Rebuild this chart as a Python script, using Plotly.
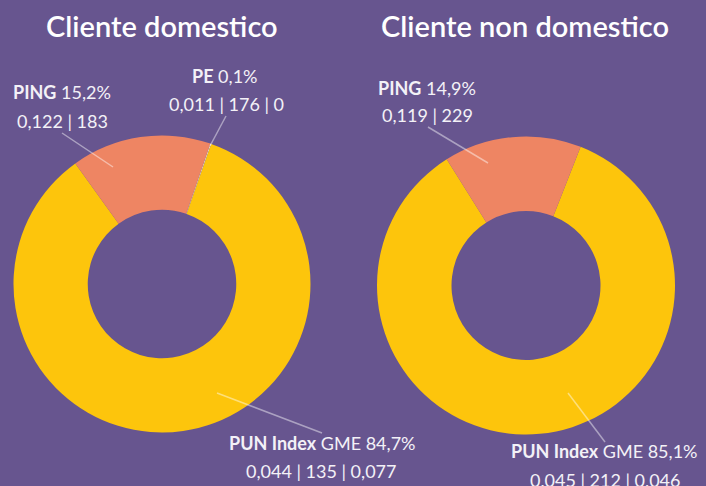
import plotly.graph_objects as go

# ---- data ----
titles = ["Cliente domestico", "Cliente non domestico"]
dom_labels = ["PE", "PUN Index GME", "PING"]
dom_values = [0.1, 84.7, 15.2]
dom_details = ["0,011 | 176 | 0", "0,044 | 135 | 0,077", "0,122 | 183"]
nondom_labels = ["PUN Index GME", "PING"]
nondom_values = [85.1, 14.9]
nondom_details = ["0,045 | 212 | 0,046", "0,119 | 229"]

W, H = 706, 486
BG = "#67558F"
COLORS = {"PE": "#EBDCC6", "PUN Index GME": "#FDC50C", "PING": "#EE8563"}
FONT = "Lato"
TXT = "#F3F1F7"

def px(x):
    return x / W

def py(y):
    return 1 - y / H

def dom_box(cx, cy, r):
    return dict(x=[px(cx - r), px(cx + r)], y=[py(cy + r), py(cy - r)])

fig = go.Figure()
fig.add_trace(go.Pie(
    labels=dom_labels, values=dom_values, hole=0.5, sort=False,
    direction="clockwise", rotation=19,
    marker=dict(colors=[COLORS[l] for l in dom_labels], line=dict(width=0)),
    textinfo="none", hoverinfo="label+percent",
    domain=dom_box(162, 284, 148.5), showlegend=False,
))
fig.add_trace(go.Pie(
    labels=nondom_labels, values=nondom_values, hole=0.5, sort=False,
    direction="clockwise", rotation=21.5,
    marker=dict(colors=[COLORS[l] for l in nondom_labels], line=dict(width=0)),
    textinfo="none", hoverinfo="label+percent",
    domain=dom_box(526, 285.5, 149), showlegend=False,
))

def pct(v):
    return f"{v:.1f}".replace(".", ",") + "%"

def name_html(label):
    if label == "PUN Index GME":
        return "<b>PUN Index</b> GME"
    return f"<b>{label}</b>"

annotations = []
shapes = []

# titles
for t, cx in zip(titles, [162, 525]):
    annotations.append(dict(text=t, x=px(cx), y=py(25), xref="paper", yref="paper",
                            showarrow=False, xanchor="center", yanchor="middle",
                            font=dict(family=FONT, size=29, color="#FFFFFF", weight=600)))

# label layout: (label, value, detail, (line1 center), (line2 center), line start, line end)
label_specs = [
    (dom_labels[2], dom_values[2], dom_details[2], (62, 92), (62, 121), (62, 133), (113, 167)),
    (dom_labels[0], dom_values[0], dom_details[0], (225, 76), (226, 104), (226, 116), (210, 146)),
    (dom_labels[1], dom_values[1], dom_details[1], (322, 443), (321, 471), (322, 433), (217, 393)),
    (nondom_labels[1], nondom_values[1], nondom_details[1], (427, 88), (427, 115), (428, 127), (488, 163)),
    (nondom_labels[0], nondom_values[0], nondom_details[0], (604, 451), (605, 480), (605, 442), (568, 393)),
]
for lab, val, det, c1, c2, l0, l1 in label_specs:
    annotations.append(dict(text=f"{name_html(lab)} {pct(val)}", x=px(c1[0]), y=py(c1[1]),
                            xref="paper", yref="paper", showarrow=False,
                            xanchor="center", yanchor="middle",
                            font=dict(family=FONT, size=18, color=TXT)))
    annotations.append(dict(text=det, x=px(c2[0]), y=py(c2[1]),
                            xref="paper", yref="paper", showarrow=False,
                            xanchor="center", yanchor="middle",
                            font=dict(family=FONT, size=18, color=TXT)))
    shapes.append(dict(type="line", xref="paper", yref="paper",
                       x0=px(l0[0]), y0=py(l0[1]), x1=px(l1[0]), y1=py(l1[1]),
                       line=dict(color="rgba(255,255,255,0.45)", width=1.5)))

fig.update_layout(
    width=W, height=H, paper_bgcolor=BG, plot_bgcolor=BG,
    margin=dict(l=0, r=0, t=0, b=0),
    annotations=annotations, shapes=shapes,
)
fig.write_html(
    "out.html",
    config={"displayModeBar": False},
    post_script="document.body.style.margin='0';document.body.style.overflow='hidden';"
                "document.documentElement.style.overflow='hidden';",
)
